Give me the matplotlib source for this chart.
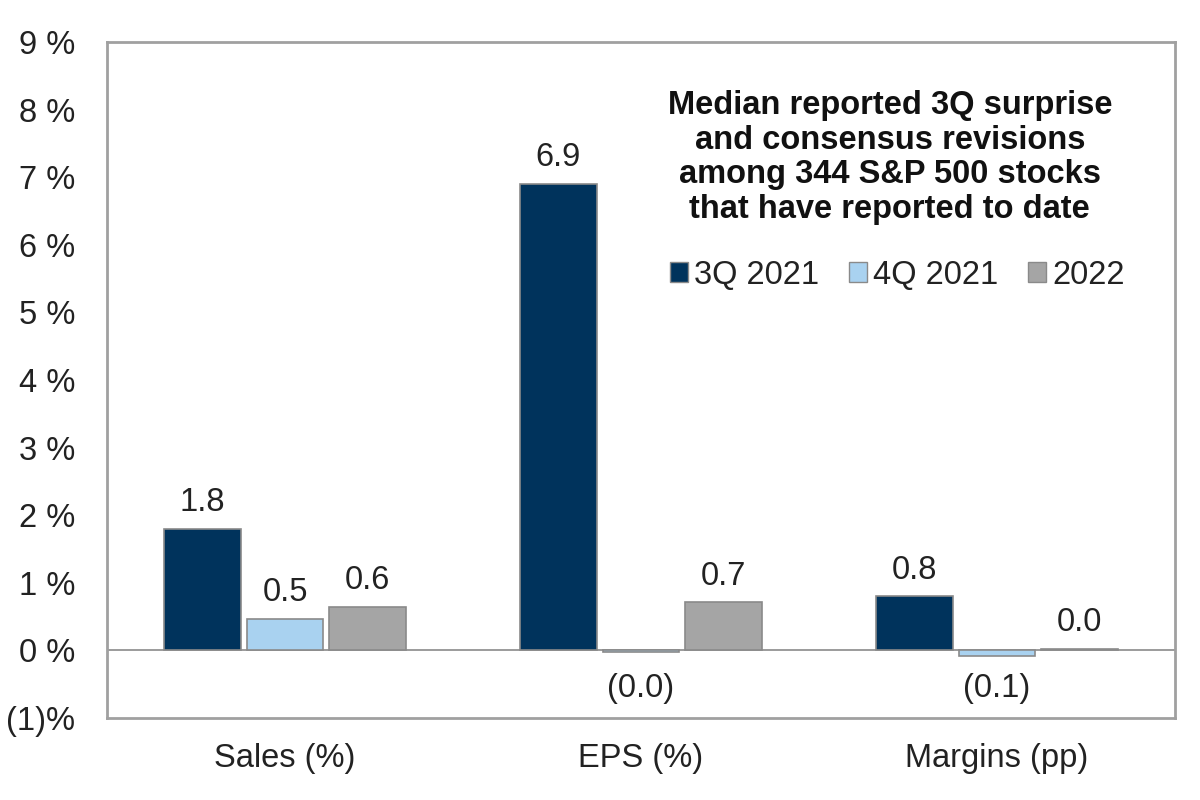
import matplotlib
matplotlib.use("Agg")
import matplotlib.pyplot as plt
import numpy as np
from matplotlib.patches import Patch

plt.rcParams['font.family'] = ['Liberation Sans', 'DejaVu Sans']

categories = ["Sales (%)", "EPS (%)", "Margins (pp)"]
series_names = ["3Q 2021", "4Q 2021", "2022"]
q3_2021 = [1.8, 6.9, 0.8]
q4_2021 = [0.47, -0.03, -0.08]
y2022 = [0.64, 0.71, 0.02]
labels_q3 = ["1.8", "6.9", "0.8"]
labels_q4 = ["0.5", "(0.0)", "(0.1)"]
labels_22 = ["0.6", "0.7", "0.0"]
yticks = [-1, 0, 1, 2, 3, 4, 5, 6, 7, 8, 9]
ytick_labels = ["(1)%", "0 %", "1 %", "2 %", "3 %", "4 %", "5 %", "6 %", "7 %", "8 %", "9 %"]

colors = ["#00335C", "#A9D2F0", "#A5A5A5"]
edge = "#8A8A8A"
txt = "#222222"
fs = 23.5

fig = plt.figure(figsize=(12, 8), dpi=100)
ax = fig.add_axes([107/1200, 1 - 718/800, (1175-107)/1200, (718-42)/800])

x = np.arange(len(categories))
w = 0.216
off = 0.232
all_series = [q3_2021, q4_2021, y2022]
all_labels = [labels_q3, labels_q4, labels_22]
for i, (vals, labs) in enumerate(zip(all_series, all_labels)):
    xs = x + (i - 1) * off
    ax.bar(xs, vals, width=w, color=colors[i], edgecolor=edge, linewidth=1.2, zorder=3)
    for xi, v, lab in zip(xs, vals, labs):
        if v >= 0:
            ax.text(xi, v + 0.16, lab, ha="center", va="bottom", fontsize=fs, color=txt)
        else:
            ax.text(xi, -0.57, lab, ha="center", va="center", fontsize=fs, color=txt)

ax.set_xlim(-0.5, 2.5)
ax.set_ylim(-1, 9)
ax.axhline(0, color="#8A8A8A", linewidth=1.2, zorder=2)
ax.set_yticks(yticks)
ax.set_yticklabels(ytick_labels, fontsize=fs, color=txt)
ax.set_xticks(x)
ax.set_xticklabels(categories, fontsize=fs, color=txt)
ax.tick_params(axis="both", length=0)
ax.tick_params(axis="y", pad=23)
ax.tick_params(axis="x", pad=18)
for s in ax.spines.values():
    s.set_color("#A0A0A0")
    s.set_linewidth(2)

ax.text(0.733, 0.829, "Median reported 3Q surprise\nand consensus revisions\namong 344 S&P 500 stocks\nthat have reported to date",
        transform=ax.transAxes, ha="center", va="center", fontsize=fs, fontweight="bold",
        color="#111111", linespacing=1.15)

handles = [Patch(facecolor=c, edgecolor=edge, linewidth=1) for c in colors]
leg = ax.legend(handles, series_names, loc="center", bbox_to_anchor=(0.74, 0.655),
                ncol=3, frameon=False, fontsize=23.5, handlelength=0.55, handleheight=0.55,
                handletextpad=0.2, columnspacing=0.9)
for t in leg.get_texts():
    t.set_color(txt)

fig.savefig("out.png", dpi=100)
